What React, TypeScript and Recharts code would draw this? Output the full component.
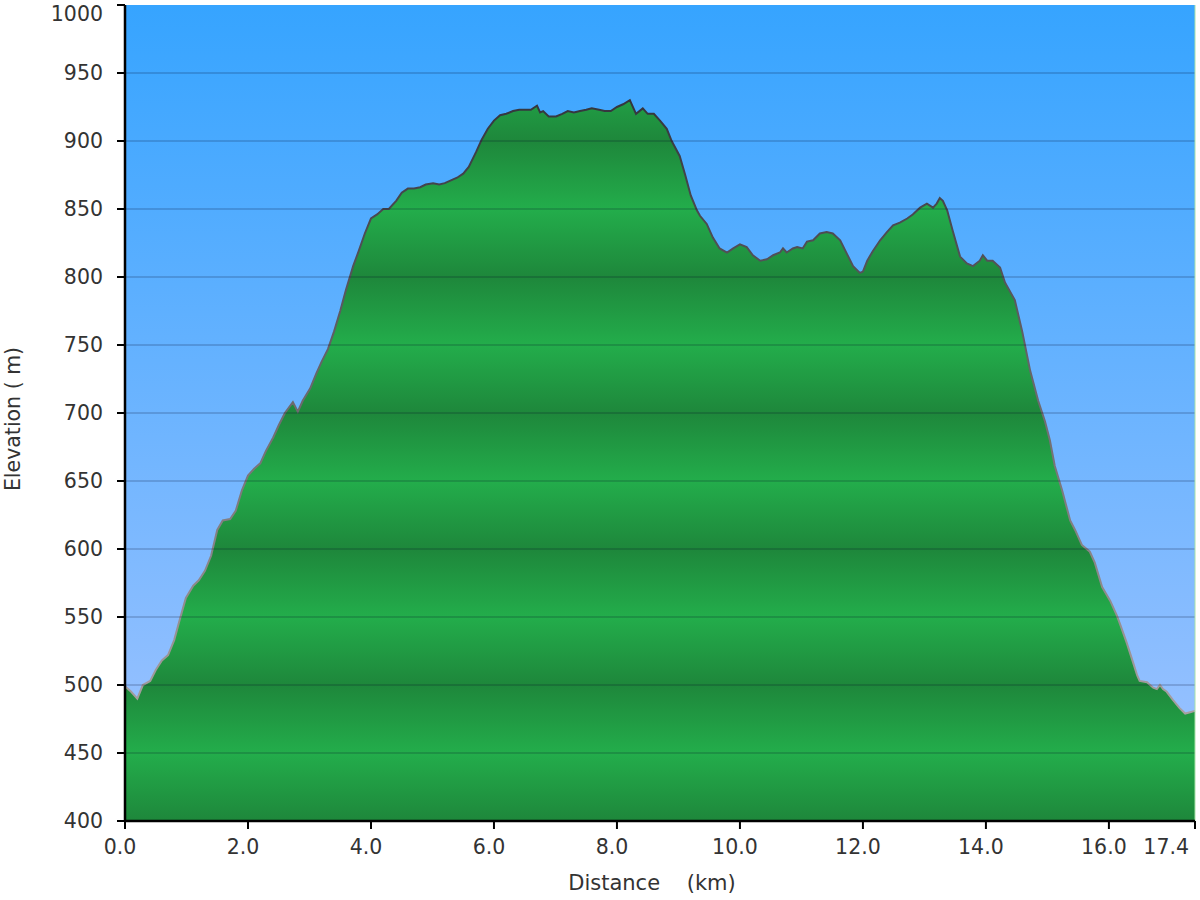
import React from 'react';
import { AreaChart, Area, XAxis, YAxis, CartesianGrid, ReferenceLine } from 'recharts';

const distanceKm = [
  0.00, 0.10, 0.20, 0.29, 0.41, 0.50, 0.60, 0.70, 0.80, 0.89, 0.99, 1.11, 1.20, 1.30, 1.40, 1.50, 1.59, 1.71, 1.80, 1.90,
  2.00, 2.10, 2.20, 2.29, 2.41, 2.50, 2.60, 2.73, 2.81, 2.89, 3.01, 3.11, 3.20, 3.30, 3.40, 3.50, 3.59, 3.71, 3.80, 3.90,
  4.00, 4.10, 4.20, 4.29, 4.41, 4.50, 4.60, 4.70, 4.80, 4.89, 5.01, 5.11, 5.20, 5.30, 5.40, 5.50, 5.59, 5.71, 5.80, 5.90,
  6.00, 6.10, 6.20, 6.31, 6.41, 6.50, 6.60, 6.70, 6.75, 6.80, 6.89, 7.01, 7.11, 7.20, 7.30, 7.40, 7.50, 7.59, 7.71, 7.80,
  7.90, 8.00, 8.10, 8.21, 8.31, 8.42, 8.50, 8.60, 8.70, 8.81, 8.89, 9.02, 9.11, 9.20, 9.30, 9.35, 9.46, 9.56, 9.67, 9.79,
  9.89, 10.00, 10.11, 10.21, 10.33, 10.44, 10.54, 10.65, 10.70, 10.76, 10.86, 10.93, 11.02, 11.09, 11.19, 11.30, 11.41, 11.51, 11.63, 11.74,
  11.84, 11.95, 12.00, 12.07, 12.16, 12.28, 12.39, 12.49, 12.60, 12.72, 12.81, 12.93, 13.04, 13.14, 13.20, 13.25, 13.30, 13.37, 13.46, 13.58,
  13.69, 13.79, 13.90, 13.95, 14.02, 14.11, 14.23, 14.31, 14.47, 14.59, 14.72, 14.85, 14.96, 15.04, 15.12, 15.24, 15.37, 15.45, 15.56, 15.69,
  15.77, 15.89, 16.02, 16.13, 16.18, 16.29, 16.39, 16.46, 16.50, 16.62, 16.72, 16.78, 16.83, 16.88, 16.94, 17.04, 17.15, 17.24, 17.32, 17.40,
];

const elevationM = [
  499, 495, 490, 500, 503, 511, 518, 522, 533, 548, 564, 573, 577, 584, 595, 614, 621, 622, 628, 643,
  654, 659, 663, 672, 682, 691, 700, 708, 701, 709, 718, 729, 738, 747, 760, 775, 790, 808, 819, 832,
  843, 846, 850, 850, 856, 862, 865, 865, 866, 868, 869, 868, 869, 871, 873, 876, 881, 892, 901, 909,
  915, 919, 920, 922, 923, 923, 923, 926, 921, 922, 918, 918, 920, 922, 921, 922, 923, 924, 923, 922,
  922, 925, 927, 930, 920, 924, 920, 920, 915, 909, 900, 889, 875, 860, 849, 845, 839, 829, 821, 818,
  821, 824, 822, 816, 812, 813, 816, 818, 821, 818, 821, 822, 821, 826, 827, 832, 833, 832, 827, 817,
  808, 803, 804, 812, 819, 827, 833, 838, 840, 843, 846, 851, 854, 851, 854, 858, 856, 849, 834, 815,
  810, 808, 812, 816, 812, 812, 807, 796, 783, 760, 731, 709, 694, 680, 661, 643, 621, 614, 603, 598,
  590, 572, 562, 551, 545, 531, 517, 507, 503, 502, 498, 497, 500, 497, 495, 489, 483, 479, 480, 481,
];

const xTicks = [0, 2, 4, 6, 8, 10, 12, 14, 16, 17.4];
const yTicks = [400, 450, 500, 550, 600, 650, 700, 750, 800, 850, 900, 950, 1000];
const gridLevels = [450, 500, 550, 600, 650, 700, 750, 800, 850, 900, 950];

const data = distanceKm.map((d, i) => ({ d, e: elevationM[i] }));

const FONT = '"DejaVu Sans", Verdana, sans-serif';

const XTick = (props: any) => {
  const { x, y, payload } = props;
  const last = payload.value === 17.4;
  return (
    <text
      x={last ? x - 6 : x - 5}
      y={y}
      dy="0.71em"
      textAnchor={last ? 'end' : 'middle'}
      fill="#333"
      fontSize={20.5}
      fontFamily={FONT}
    >
      {Number(payload.value).toFixed(1)}
    </text>
  );
};

const YTick = (props: any) => {
  const { x, y, payload } = props;
  const top = payload.value === 1000;
  return (
    <text x={x} y={top ? y + 9 : y} dy="0.355em" textAnchor="end" fill="#333" fontSize={20.5} fontFamily={FONT}>
      {payload.value}
    </text>
  );
};

const XTitle = (props: any) => {
  const { viewBox } = props;
  const cx = viewBox.x + viewBox.width / 2 - 8;
  return (
    <text x={cx} y={890} textAnchor="middle" fill="#333" fontSize={21} fontFamily={FONT} style={{ whiteSpace: 'pre' }}>
      {'Distance    (km)'}
    </text>
  );
};

const YTitle = (props: any) => {
  const { viewBox } = props;
  const cy = viewBox.y + viewBox.height / 2 + 6;
  return (
    <text
      x={20}
      y={cy}
      transform={`rotate(-90 20 ${cy})`}
      textAnchor="middle"
      fill="#333"
      fontSize={20.5}
      fontFamily={FONT}
      style={{ whiteSpace: 'pre' }}
    >
      {'Elevation ( m)'}
    </text>
  );
};

export default function App() {
  return (
    <div style={{ position: 'absolute', left: 0, top: 0, width: 1200, height: 900, background: '#fff' }}>
      <AreaChart width={1200} height={900} data={data} margin={{ top: 5, right: 5, bottom: 0, left: 0 }}>
        <defs>
          <linearGradient id="sky" x1="0" y1="0" x2="0" y2="1">
            <stop offset="0%" stopColor="#36a4ff" />
            <stop offset="100%" stopColor="#a2c4ff" />
          </linearGradient>
          <linearGradient id="ground" gradientUnits="userSpaceOnUse" x1="0" y1="821" x2="0" y2="685" spreadMethod="repeat">
            <stop offset="0%" stopColor="#1e873b" />
            <stop offset="50%" stopColor="#23ad4b" />
            <stop offset="100%" stopColor="#1e873b" />
          </linearGradient>
          <linearGradient id="edge" gradientUnits="userSpaceOnUse" x1="0" y1="5" x2="0" y2="821">
            <stop offset="0%" stopColor="#22252e" />
            <stop offset="100%" stopColor="#bab2b2" />
          </linearGradient>
        </defs>
        <CartesianGrid fill="url(#sky)" fillOpacity={1} horizontal={false} vertical={false} stroke="none" />
        <XAxis
          dataKey="d"
          type="number"
          domain={[0, 17.4]}
          ticks={xTicks}
          interval={0}
          height={79}
          tickSize={8}
          tickMargin={10}
          axisLine={{ stroke: '#000', strokeWidth: 2.5 }}
          tickLine={{ stroke: '#000', strokeWidth: 2 }}
          tick={<XTick />}
          label={<XTitle />}
        />
        <YAxis
          type="number"
          domain={[400, 1000]}
          ticks={yTicks}
          interval={0}
          width={125}
          tickSize={8}
          tickMargin={14}
          axisLine={{ stroke: '#000', strokeWidth: 2.5 }}
          tickLine={{ stroke: '#000', strokeWidth: 2 }}
          tick={<YTick />}
          label={<YTitle />}
        />
        <Area
          type="linear"
          dataKey="e"
          stroke="url(#edge)"
          strokeWidth={2}
          fill="url(#ground)"
          fillOpacity={1}
          isAnimationActive={false}
          dot={false}
          activeDot={false}
        />
        {gridLevels.map((v) => (
          <ReferenceLine key={v} y={v} stroke="rgba(0,10,40,0.22)" strokeWidth={1.5} />
        ))}
        <ReferenceLine x={17.4} stroke="#a8e2a8" strokeWidth={1} />
      </AreaChart>
    </div>
  );
}
